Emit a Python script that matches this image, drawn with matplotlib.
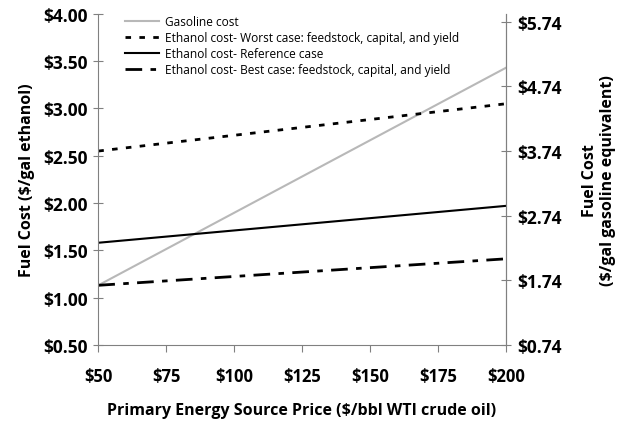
import matplotlib.pyplot as plt

plt.rcParams['font.family'] = ['Open Sans', 'DejaVu Sans']

oil_price = [50, 200]
gasoline = [1.13, 3.43]
worst_case = [2.55, 3.05]
reference_case = [1.58, 1.97]
best_case = [1.13, 1.41]

x_ticks = [50, 75, 100, 125, 150, 175, 200]
left_ticks = [0.5, 1.0, 1.5, 2.0, 2.5, 3.0, 3.5, 4.0]
right_ticks = [0.74, 1.74, 2.74, 3.74, 4.74, 5.74]

fig = plt.figure(figsize=(6.26, 4.27), dpi=100)
ax = fig.add_axes([0.157, 0.19, 0.651, 0.775])

ax.plot(oil_price, gasoline, color='#b8b8b8', lw=1.5, label='Gasoline cost')
ax.plot(oil_price, worst_case, color='black', lw=2, linestyle=(0, (2, 3)),
        label='Ethanol cost- Worst case: feedstock, capital, and yield')
ax.plot(oil_price, reference_case, color='black', lw=1.5,
        label='Ethanol cost- Reference case')
ax.plot(oil_price, best_case, color='black', lw=2, linestyle=(0, (6, 3, 2, 3)),
        label='Ethanol cost- Best case: feedstock, capital, and yield')

ax.set_xlim(50, 200)
ax.set_ylim(0.5, 4.0)
ax.set_xticks(x_ticks)
ax.set_xticklabels(['$%d' % v for v in x_ticks])
ax.set_yticks(left_ticks)
ax.set_yticklabels(['$%.2f' % v for v in left_ticks])

ax2 = ax.twinx()
ax2.set_ylim(0.74, 0.74 + 3.5 * 1.462)
ax2.set_yticks(right_ticks)
ax2.set_yticklabels(['$%.2f' % v for v in right_ticks])

for a in (ax, ax2):
    a.spines['top'].set_visible(False)
    for s in ('left', 'right', 'bottom'):
        a.spines[s].set_color('#808080')
ax2.spines['left'].set_visible(False)
ax2.spines['bottom'].set_visible(False)

ax.tick_params(axis='y', direction='inout', length=7, color='#808080', labelsize=12.5, pad=4)
ax.tick_params(axis='x', direction='out', length=5, color='#808080', labelsize=12, pad=11)
ax2.tick_params(axis='y', direction='inout', length=7, color='#808080', labelsize=12.5, pad=5)
for lbl in ax.get_xticklabels() + ax.get_yticklabels() + ax2.get_yticklabels():
    lbl.set_fontweight('bold')

ax.set_ylabel('Fuel Cost ($/gal ethanol)', fontsize=11.5, fontweight='bold', labelpad=6)
ax.set_xlabel('Primary Energy Source Price ($/bbl WTI crude oil)', fontsize=11.5,
              fontweight='bold', labelpad=12)
ax2.set_ylabel('Fuel Cost\n($/gal gasoline equivalent)', fontsize=11.5,
               fontweight='bold', labelpad=14)

ax.legend(loc='upper left', bbox_to_anchor=(0.04, 1.03), frameon=False,
          fontsize=8.6, handlelength=2.8, labelspacing=0.25, handletextpad=0.5)

fig.savefig('out.png', dpi=100)
